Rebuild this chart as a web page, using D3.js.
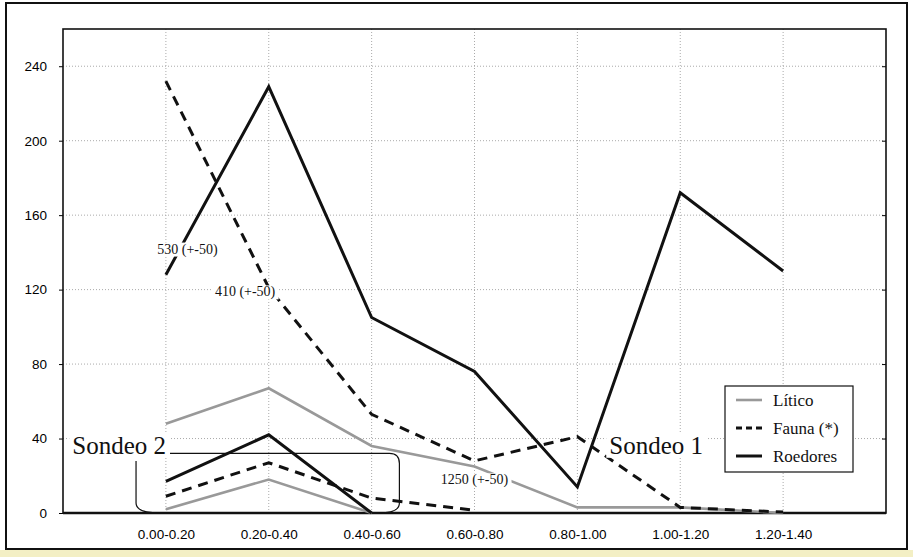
<!DOCTYPE html>
<html lang="es">
<head>
<meta charset="UTF-8">
<title>Sondeo 1 / Sondeo 2</title>
<script src="https://cdn.jsdelivr.net/npm/d3@7"></script>
<style>
    body { margin: 0; background: #fff; }
    .tick text { font-family: "Liberation Sans", Arial, sans-serif; font-size: 13.5px; fill: #000; }
    .grid line { stroke: #aaa; stroke-dasharray: 1,2; stroke-width: 1; }
    .note { font-family: "Liberation Serif", "Times New Roman", serif; fill: #111; }
</style>
</head>
<body>
<svg width="913" height="557"></svg>
<script>
    var categories = ["0.00-0.20", "0.20-0.40", "0.40-0.60", "0.60-0.80", "0.80-1.00", "1.00-1.20", "1.20-1.40"];
    var yTicks = [0, 40, 80, 120, 160, 200, 240];

    // Sondeo 1
    var litico1   = [48, 67, 36, 25, 3, 3, 0];
    var fauna1    = [232, 121, 53, 28, 41, 3, 0.5];
    var roedores1 = [128, 229, 105, 76, 14, 172, 130];

    // Sondeo 2 (first levels only)
    var litico2   = [2, 18, 0];
    var fauna2    = [9, 27, 8, 1.5];
    var roedores2 = [17, 42, 0];

    var legendItems = ["Lítico", "Fauna (*)", "Roedores"];

    var svg = d3.select("svg");
    var margin = {left: 63, right: 27, top: 29, bottom: 44};
    var W = 913, H = 557;

    var x = d3.scaleLinear().domain([0, 8]).range([margin.left, W - margin.right]);
    var y = d3.scaleLinear().domain([0, 260]).range([H - margin.bottom, margin.top]);

    // outer frame
    svg.append("rect").attr("x", 0).attr("y", 550).attr("width", W).attr("height", 7).attr("fill", "#f3efc4");
    svg.append("rect")
            .attr("x", 6).attr("y", 3).attr("width", 901).attr("height", 546)
            .attr("fill", "#fff").attr("stroke", "#111").attr("stroke-width", 2);

    // grid
    var grid = svg.append("g").attr("class", "grid");
    grid.selectAll("line.h")
            .data(yTicks.slice(1))
            .enter().append("line")
            .attr("x1", x(0)).attr("x2", x(8))
            .attr("y1", function(d) { return y(d); })
            .attr("y2", function(d) { return y(d); });
    grid.selectAll("line.v")
            .data(categories)
            .enter().append("line")
            .attr("x1", function(d, i) { return x(i + 1); })
            .attr("x2", function(d, i) { return x(i + 1); })
            .attr("y1", y(0)).attr("y2", y(260));

    // axes
    var yAxis = d3.axisLeft(y).tickValues(yTicks).tickSize(4).tickPadding(12);
    svg.append("g").attr("transform", "translate(" + x(0) + ",0)").call(yAxis)
            .call(function(g) { g.select(".domain").remove(); });
    svg.append("g").attr("transform", "translate(" + x(8) + ",0)")
            .call(d3.axisLeft(y).tickValues(yTicks).tickSize(4).tickFormat(""))
            .call(function(g) { g.select(".domain").remove(); });

    var xAxis = d3.axisBottom(x).tickValues(d3.range(1, 8)).tickSize(0).tickPadding(16)
            .tickFormat(function(d) { return categories[d - 1]; });
    svg.append("g").attr("transform", "translate(0," + y(0) + ")").call(xAxis)
            .call(function(g) { g.select(".domain").remove(); });

    // plot frame
    svg.append("rect")
            .attr("x", x(0)).attr("y", y(260))
            .attr("width", x(8) - x(0)).attr("height", y(0) - y(260))
            .attr("fill", "none").attr("stroke", "#111").attr("stroke-width", 1.6);
    svg.append("line").attr("x1", x(0)).attr("x2", x(8)).attr("y1", y(0)).attr("y2", y(0))
            .attr("stroke", "#111").attr("stroke-width", 2.5);

    // bracket round Sondeo 2
    var r = 10;
    var bL = x(0.71), bR = x(3.27), bT = y(32), bB = y(0), bS = x(1.04);
    var br = d3.path();
    br.moveTo(bS, bT);
    br.lineTo(bR - r, bT);
    br.quadraticCurveTo(bR, bT, bR, bT + r);
    br.lineTo(bR, bB - r);
    br.quadraticCurveTo(bR, bB, bR - r * 2, bB);
    br.moveTo(bL, y(28));
    br.lineTo(bL, bB - r);
    br.quadraticCurveTo(bL, bB, bL + r * 2.4, bB);
    svg.append("path").attr("d", br.toString())
            .attr("fill", "none").attr("stroke", "#111").attr("stroke-width", 1.2);

    // series
    var line = d3.line()
            .x(function(d, i) { return x(i + 1); })
            .y(function(d) { return y(d); });

    var styles = {
        litico:   {stroke: "#999", width: 2.6, dash: null},
        fauna:    {stroke: "#111", width: 3, dash: "10,7"},
        roedores: {stroke: "#111", width: 3, dash: null}
    };
    var series = [
        {k: "litico", v: litico1}, {k: "litico", v: litico2},
        {k: "fauna", v: fauna1}, {k: "fauna", v: fauna2},
        {k: "roedores", v: roedores1}, {k: "roedores", v: roedores2}
    ];
    svg.selectAll("path.series")
            .data(series)
            .enter().append("path")
            .attr("class", "series")
            .attr("d", function(d) { return line(d.v); })
            .attr("fill", "none")
            .attr("stroke", function(d) { return styles[d.k].stroke; })
            .attr("stroke-width", function(d) { return styles[d.k].width; })
            .attr("stroke-dasharray", function(d) { return styles[d.k].dash; })
            .attr("stroke-linejoin", "miter");

    // notes with white boxes
    var notes = [
        {t: "530 (+-50)", xi: 1.21, v: 142, size: 14, anchor: "middle"},
        {t: "410 (+-50)", xi: 1.77, v: 119, size: 14, anchor: "middle"},
        {t: "1250 (+-50)", xi: 4.0, v: 18, size: 14, anchor: "middle"},
        {t: "Sondeo 1", xi: 5.31, v: 36.5, size: 25, anchor: "start"},
        {t: "Sondeo 2", xi: 0.09, v: 36.5, size: 25, anchor: "start"}
    ];
    notes.forEach(function(n) {
        var g = svg.append("g");
        var txt = g.append("text").attr("class", "note")
                .attr("x", x(n.xi)).attr("y", y(n.v))
                .attr("dy", "0.35em")
                .attr("text-anchor", n.anchor)
                .style("font-size", n.size + "px")
                .text(n.t);
        var b = txt.node().getBBox();
        g.insert("rect", "text")
                .attr("x", b.x - 3).attr("y", b.y + 1)
                .attr("width", b.width + 6).attr("height", b.height - 2)
                .attr("fill", "#fff");
    });

    // legend
    var lg = svg.append("g").attr("transform", "translate(725,386)");
    lg.append("rect").attr("width", 128).attr("height", 86)
            .attr("fill", "#fff").attr("stroke", "#111").attr("stroke-width", 1.2);
    var lk = ["litico", "fauna", "roedores"];
    legendItems.forEach(function(t, i) {
        var yy = 14 + i * 28;
        lg.append("line").attr("x1", 11).attr("x2", 37).attr("y1", yy).attr("y2", yy)
                .attr("stroke", styles[lk[i]].stroke)
                .attr("stroke-width", styles[lk[i]].width)
                .attr("stroke-dasharray", lk[i] === "fauna" ? "6,4" : null);
        lg.append("text").attr("class", "note").attr("x", 48).attr("y", yy)
                .attr("dy", "0.35em").style("font-size", "17px").text(t);
    });
</script>
</body>
</html>
